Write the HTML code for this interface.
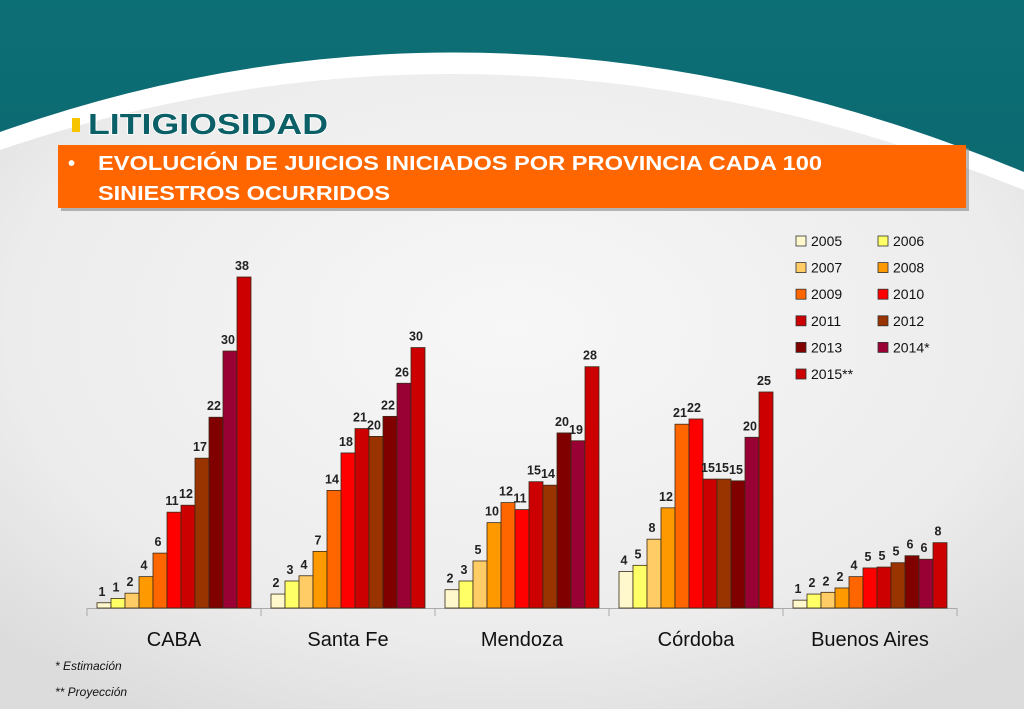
<!DOCTYPE html>
<html><head><meta charset="utf-8"><style>
html,body{margin:0;padding:0;width:1024px;height:709px;overflow:hidden;background:#eee}
svg{display:block;overflow:hidden}
</style></head><body>
<svg id="s" width="1024" height="709" viewBox="0 0 1024 709" xmlns="http://www.w3.org/2000/svg">
<defs>
<linearGradient id="bg" x1="0" y1="0" x2="0" y2="1"><stop offset="0" stop-color="#0d6f76"/><stop offset="1" stop-color="#07585f"/></linearGradient>
<radialGradient id="body" cx="0.5" cy="0.4" r="0.7"><stop offset="0" stop-color="#f7f7f7"/><stop offset="0.7" stop-color="#ececec"/><stop offset="1" stop-color="#dcdcdc"/></radialGradient>
</defs>
<rect width="1024" height="709" fill="url(#bg)"/>
<path d="M0,132 Q500,-45 1024,172 L1024,709 L0,709 Z" fill="#ffffff"/>
<path d="M0,150 Q500,-20 1024,190 L1024,709 L0,709 Z" fill="url(#body)"/>
<rect x="72" y="118" width="8" height="14" fill="#f6c400"/>
<text x="88" y="134" font-family="Liberation Sans, sans-serif" font-weight="bold" font-size="29" fill="#0b5f66" textLength="240" lengthAdjust="spacingAndGlyphs" style="paint-order:stroke" stroke="#ffffff" stroke-width="1.5">LITIGIOSIDAD</text>
<rect x="61" y="148" width="908" height="63" fill="#888" opacity="0.6"/>
<rect x="58" y="145" width="908" height="63" fill="#ff6600"/>
<text font-family="Liberation Sans, sans-serif" font-weight="bold" font-size="20" fill="#fff">
<tspan x="68" y="170">•</tspan><tspan x="98" y="170" textLength="724" lengthAdjust="spacingAndGlyphs">EVOLUCIÓN DE JUICIOS INICIADOS POR PROVINCIA CADA 100</tspan>
<tspan x="98" y="200" textLength="292" lengthAdjust="spacingAndGlyphs">SINIESTROS OCURRIDOS</tspan></text>
<g id="chart"></g>
<g id="legend"></g>
<text x="55" y="670" font-family="Liberation Sans, sans-serif" font-style="italic" font-size="12" fill="#111">* Estimación</text>
<text x="55" y="696" font-family="Liberation Sans, sans-serif" font-style="italic" font-size="12" fill="#111">** Proyección</text>
</svg>
<script>
const categories = ["CABA","Santa Fe","Mendoza","Córdoba","Buenos Aires"];
const years = ["2005","2006","2007","2008","2009","2010","2011","2012","2013","2014*","2015**"];
const colors = ["#fff8cc","#ffff66","#ffcc66","#ff9900","#ff6600","#ff0000","#cc0000","#993300","#800000","#990033","#cc0000"];
const caba = [0.6,1.1,1.7,3.6,6.3,11.0,11.8,17.2,21.9,29.5,38];
const santaFe = [1.6,3.1,3.7,6.5,13.5,17.8,20.6,19.7,22.0,25.8,29.9];
const mendoza = [2.1,3.1,5.4,9.8,12.1,11.3,14.5,14.1,20.1,19.2,27.7];
const cordoba = [4.2,4.9,7.9,11.5,21.1,21.7,14.8,14.8,14.6,19.6,24.8];
const buenosAires = [0.9,1.6,1.8,2.3,3.6,4.6,4.7,5.2,6.0,5.6,7.5];
const series = [caba,santaFe,mendoza,cordoba,buenosAires];

const NS="http://www.w3.org/2000/svg";
const X0=87, X1=957, BASE=608, TOPY=277, MAXV=38;
const groupW=(X1-X0)/categories.length, barW=14;
const yScale=v=>BASE-(v/MAXV)*(BASE-TOPY);
const xBar=(g,i)=>X0+g*groupW+(groupW-barW*years.length)/2+i*barW;
const chart=document.getElementById('chart');
function mk(tag,attrs,parent){const e=document.createElementNS(NS,tag);for(const k in attrs)e.setAttribute(k,attrs[k]);parent.appendChild(e);return e;}

const axis=mk('line',{x1:X0,y1:BASE+0.5,x2:X1,y2:BASE+0.5,stroke:'#aaa','stroke-width':1},chart);


for(let g=0;g<=categories.length;g++){
  const t=mk('line',{x1:X0+g*groupW,y1:BASE,x2:X0+g*groupW,y2:BASE+8,stroke:'#aaa'},chart);
  
  
}
categories.forEach((c,g)=>{
  const lab=mk('text',{x:X0+g*groupW+groupW/2,y:646,'text-anchor':'middle','font-family':'Liberation Sans, sans-serif','font-size':'20',fill:'#111'},chart);
  lab.textContent=c;
  
  
  series[g].forEach((v,i)=>{
    const x=xBar(g,i), y=yScale(v);
    const r=mk('rect',{x:x,y:y,width:barW,height:BASE-y,fill:colors[i],stroke:'#3a2a1a','stroke-width':0.8},chart);
    
    
    const t=mk('text',{x:x+barW/2-2,y:y-7,'text-anchor':'middle','font-family':'Liberation Sans, sans-serif','font-weight':'bold','font-size':'12.5',fill:'#222'},chart);
    t.textContent=Math.round(v);
    
    
  });
});
const legend=document.getElementById('legend');
years.forEach((yr,i)=>{
  const col=i%2,row=Math.floor(i/2);
  const lx=796+col*82, ly=241+row*26.6;
  const sw=mk('rect',{x:lx,y:ly-5,width:10,height:10,fill:colors[i],stroke:'#333','stroke-width':0.8},legend);
  
  
  const t=mk('text',{x:lx+15,y:ly+5,'font-family':'Liberation Sans, sans-serif','font-size':'14',fill:'#111'},legend);
  t.textContent=yr;
  
  
});
</script>
</body></html>
